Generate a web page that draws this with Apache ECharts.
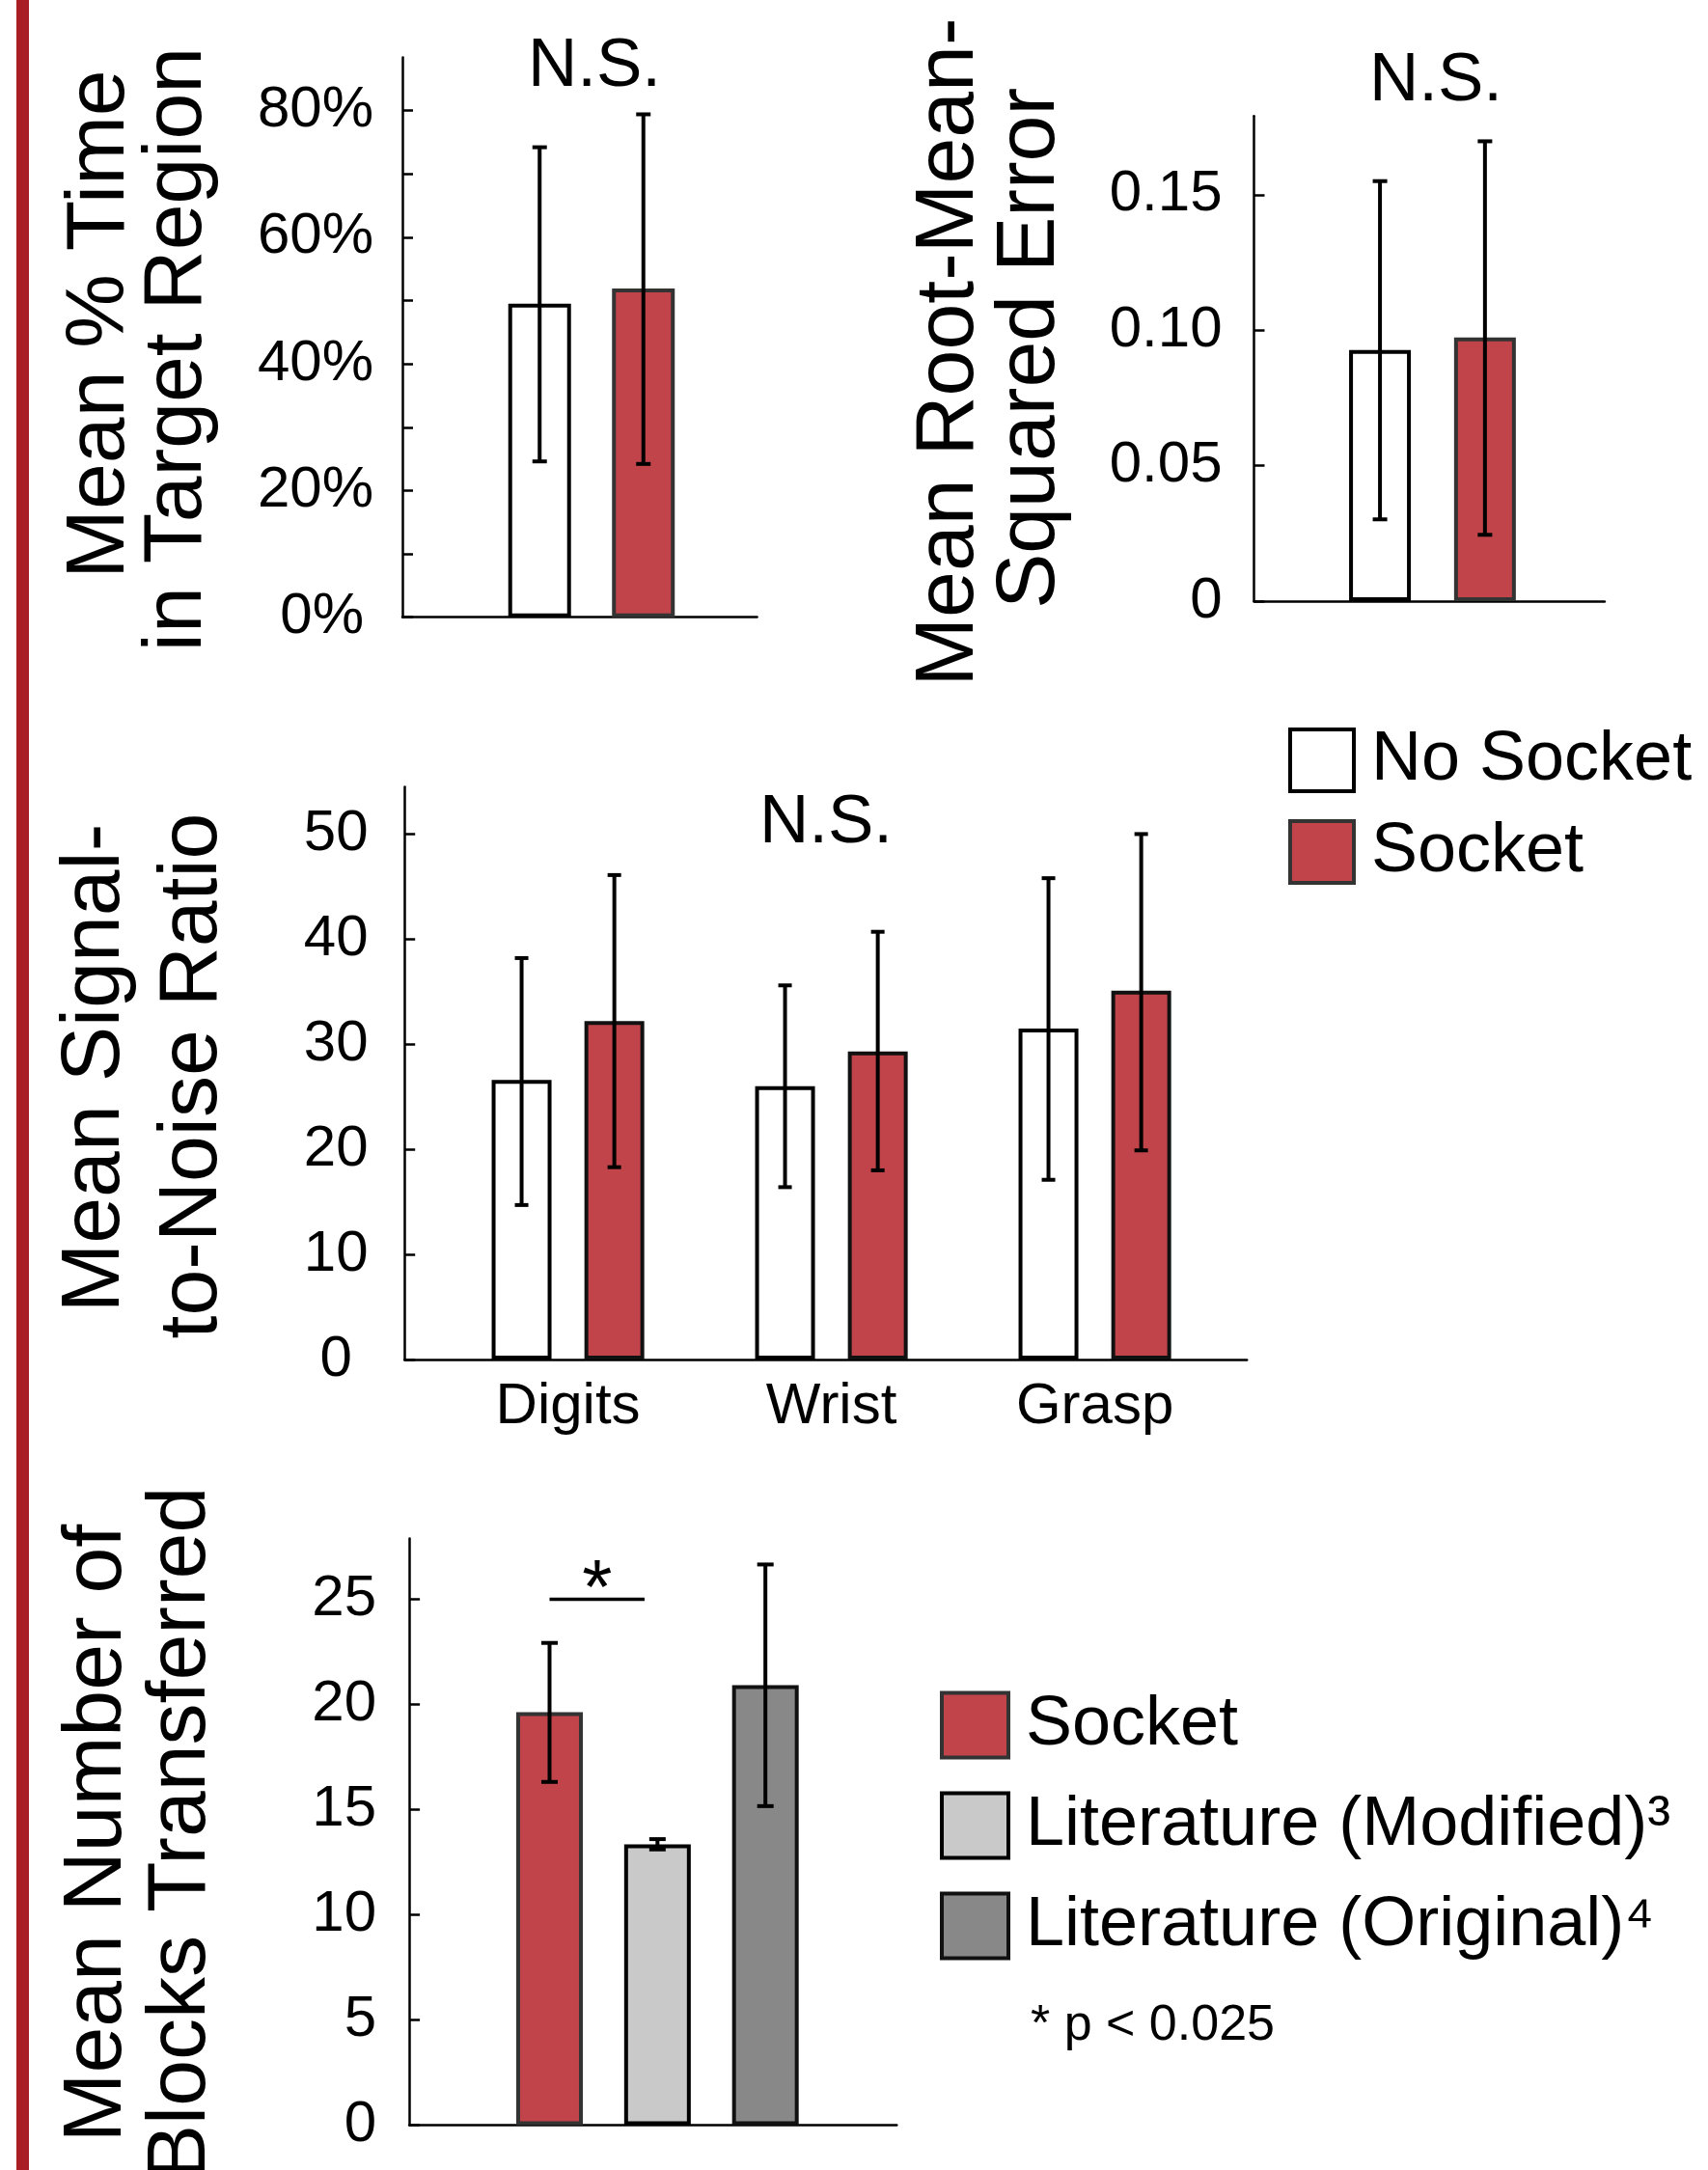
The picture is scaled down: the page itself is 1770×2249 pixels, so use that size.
<!DOCTYPE html>
<html><head><meta charset="utf-8">
<script src="https://cdn.jsdelivr.net/npm/echarts@6/dist/echarts.min.js"></script>
<style>html,body{margin:0;padding:0;background:#fff}#c{width:1770px;height:2249px}</style>
</head><body><div id="c"></div>
<script>
// ---------- DATA ----------
// Panel A: mean % time in target region (index 0 = No Socket, 1 = Socket)
const timeMean = [49.5, 51.9];
const timeLow = [24.6, 24.2];
const timeHigh = [74.2, 79.4];
const timeTicks = [0, 10, 20, 30, 40, 50, 60, 70, 80];
const timeTickLabels = [0, 20, 40, 60, 80];

// Panel B: mean RMSE
const rmseMean = [0.0927, 0.0973];
const rmseLow = [0.0302, 0.0245];
const rmseHigh = [0.155, 0.1697];
const rmseTicks = [0, 0.05, 0.10, 0.15];

// Panel C: mean signal-to-noise ratio
const snrCategories = ['Digits', 'Wrist', 'Grasp'];
const snrNoSocket = [26.6, 26.0, 31.5];
const snrNoSocketLow = [14.7, 16.4, 17.1];
const snrNoSocketHigh = [38.2, 35.6, 45.8];
const snrSocket = [32.2, 29.3, 35.1];
const snrSocketLow = [18.3, 18.0, 19.9];
const snrSocketHigh = [46.1, 40.7, 50.0];
const snrTicks = [0, 10, 20, 30, 40, 50];

// Panel D: mean number of blocks transferred
const blockNames = ['Socket', 'Literature (Modified)³', 'Literature (Original)⁴'];
const blockMean = [19.64, 13.35, 20.92];
const blockLow = [16.32, 13.11, 15.17];
const blockHigh = [22.93, 13.6, 26.66];
const blockTicks = [0, 5, 10, 15, 20, 25];
const sigBracket = [[0, 0.88, 25]]; // from index, to index, value
const sigNote = '* p < 0.025';

const seriesNames = ['No Socket', 'Socket'];

// ---------- STYLE ----------
const FONT = "'Liberation Sans', Arial, Helvetica, sans-serif";
const RED = '#C0444A', RED_BORDER = '#333333';
const LIGHT = '#C8C9C8', DARK = '#878887';
const axisLineStyle = {color: '#000', width: 2.5};

function errorSeries(idx, data, offset, capW) {
  return {
    type: 'custom', xAxisIndex: idx, yAxisIndex: idx, z: 10, silent: true,
    data: data,
    renderItem: function (params, api) {
      const p1 = api.coord([api.value(0), api.value(1)]);
      const p2 = api.coord([api.value(0), api.value(2)]);
      const x = p1[0] + offset;
      const st = {stroke: '#000', lineWidth: 4, fill: null};
      return {type: 'group', children: [
        {type: 'line', shape: {x1: x, y1: p2[1], x2: x, y2: p1[1]}, style: st},
        {type: 'line', shape: {x1: x - capW / 2, y1: p2[1], x2: x + capW / 2, y2: p2[1]}, style: st},
        {type: 'line', shape: {x1: x - capW / 2, y1: p1[1], x2: x + capW / 2, y2: p1[1]}, style: st}
      ]};
    }
  };
}

function yAxisDef(idx, max, ticks, labels, fmt, margin, align, rich) {
  return {
    gridIndex: idx, type: 'value', min: 0, max: max,
    axisLine: {show: true, onZero: false, lineStyle: axisLineStyle},
    axisTick: {show: true, inside: true, length: 11, customValues: ticks, lineStyle: {color: '#000', width: 2.5}},
    axisLabel: {show: true, customValues: labels, formatter: fmt, fontSize: 60, fontFamily: FONT,
      color: '#000', margin: margin, align: align || 'right', rich: rich || {}},
    splitLine: {show: false}
  };
}
function xAxisDef(idx, min, max, labelOpt) {
  return {
    gridIndex: idx, type: 'value', min: min, max: max,
    axisLine: {show: true, onZero: false, lineStyle: axisLineStyle},
    axisTick: {show: false},
    axisLabel: labelOpt || {show: false},
    splitLine: {show: false}
  };
}

// bar geometry per panel (outer widths; ECharts keeps the border inside the bar)
const bwA = 65, gapA = 0.654, bwB = 64, gapB = 0.70, bwC = 62, gapC = 0.55, bwD = 69;

const chart = echarts.init(document.getElementById('c'), null, {renderer: 'canvas'});

const series = [
  // Panel A
  {type: 'bar', name: seriesNames[0], xAxisIndex: 0, yAxisIndex: 0, barWidth: bwA, barGap: (gapA * 100) + '%',
    itemStyle: {color: '#fff', borderColor: '#000', borderWidth: 4}, data: [[0, timeMean[0]]]},
  {type: 'bar', name: seriesNames[1], xAxisIndex: 0, yAxisIndex: 0, barWidth: bwA, barGap: (gapA * 100) + '%',
    itemStyle: {color: RED, borderColor: RED_BORDER, borderWidth: 4}, data: [[0, timeMean[1]]]},
  errorSeries(0, [[0, timeLow[0], timeHigh[0]]], -bwA * (1 + gapA) / 2, 15),
  errorSeries(0, [[0, timeLow[1], timeHigh[1]]], bwA * (1 + gapA) / 2, 15),
  // Panel B
  {type: 'bar', name: seriesNames[0], xAxisIndex: 1, yAxisIndex: 1, barWidth: bwB, barGap: (gapB * 100) + '%',
    itemStyle: {color: '#fff', borderColor: '#000', borderWidth: 4}, data: [[0, rmseMean[0]]]},
  {type: 'bar', name: seriesNames[1], xAxisIndex: 1, yAxisIndex: 1, barWidth: bwB, barGap: (gapB * 100) + '%',
    itemStyle: {color: RED, borderColor: RED_BORDER, borderWidth: 4}, data: [[0, rmseMean[1]]]},
  errorSeries(1, [[0, rmseLow[0], rmseHigh[0]]], -bwB * (1 + gapB) / 2, 15),
  errorSeries(1, [[0, rmseLow[1], rmseHigh[1]]], bwB * (1 + gapB) / 2, 15),
  // Panel C
  {type: 'bar', name: seriesNames[0], xAxisIndex: 2, yAxisIndex: 2, barWidth: bwC, barGap: (gapC * 100) + '%',
    itemStyle: {color: '#fff', borderColor: '#000', borderWidth: 4}, data: snrNoSocket.map((v, i) => [i, v])},
  {type: 'bar', name: seriesNames[1], xAxisIndex: 2, yAxisIndex: 2, barWidth: bwC, barGap: (gapC * 100) + '%',
    itemStyle: {color: RED, borderColor: '#111', borderWidth: 4}, data: snrSocket.map((v, i) => [i, v])},
  errorSeries(2, snrNoSocket.map((v, i) => [i, snrNoSocketLow[i], snrNoSocketHigh[i]]), -bwC * (1 + gapC) / 2, 14),
  errorSeries(2, snrSocket.map((v, i) => [i, snrSocketLow[i], snrSocketHigh[i]]), bwC * (1 + gapC) / 2, 14),
  // Panel D
  {type: 'bar', name: blockNames[0], xAxisIndex: 3, yAxisIndex: 3, barWidth: bwD, barGap: '-100%',
    itemStyle: {color: RED, borderColor: RED_BORDER, borderWidth: 4}, data: [[0, blockMean[0]]]},
  {type: 'bar', name: blockNames[1], xAxisIndex: 3, yAxisIndex: 3, barWidth: bwD, barGap: '-100%',
    itemStyle: {color: LIGHT, borderColor: '#000', borderWidth: 4}, data: [[1, blockMean[1]]]},
  {type: 'bar', name: blockNames[2], xAxisIndex: 3, yAxisIndex: 3, barWidth: bwD, barGap: '-100%',
    itemStyle: {color: DARK, borderColor: '#111', borderWidth: 4}, data: [[2, blockMean[2]]]},
  errorSeries(3, blockMean.map((v, i) => [i, blockLow[i], blockHigh[i]]), 0, 17),
  {
    type: 'custom', xAxisIndex: 3, yAxisIndex: 3, z: 10, silent: true, data: sigBracket,
    renderItem: function (params, api) {
      const a = api.coord([api.value(0), api.value(2)]);
      const b = api.coord([api.value(1), api.value(2)]);
      return {type: 'group', children: [
        {type: 'line', shape: {x1: a[0], y1: a[1], x2: b[0], y2: b[1]}, style: {stroke: '#000', lineWidth: 3.5}},
        {type: 'text', x: (a[0] + b[0]) / 2, y: a[1] - 8,
          style: {text: '*', font: '80px ' + FONT, fill: '#000', textAlign: 'center', textVerticalAlign: 'middle',
            align: 'center', verticalAlign: 'middle'}}
      ]};
    }
  }
];

function txt(t, x, y, size, rot, align) {
  return {type: 'text', x: x, y: y, rotation: rot || 0, silent: true,
    style: {text: t, font: size + 'px ' + FONT, fill: '#000',
      textAlign: align || 'center', textVerticalAlign: 'middle', align: align || 'center', verticalAlign: 'middle'}};
}
const R = Math.PI / 2;

const option = {
  animation: false,
  backgroundColor: '#fff',
  textStyle: {fontFamily: FONT},
  grid: [
    {left: 417, top: 59.4, width: 367.5, height: 580.3},
    {left: 1299.5, top: 120.3, width: 363.4, height: 502.8},
    {left: 419.2, top: 815.4, width: 873, height: 593.6},
    {left: 424.1, top: 1594.4, width: 505.2, height: 608.1}
  ],
  xAxis: [
    xAxisDef(0, -0.5333, 0.4667),
    xAxisDef(1, -0.509, 0.491),
    xAxisDef(2, -0.6205, 2.5773, {show: true, customValues: snrCategories.map((c, i) => i),
      formatter: v => snrCategories[v] || '', fontSize: 60, fontFamily: FONT, color: '#000', margin: 19}),
    xAxisDef(3, -1.300, 3.217)
  ],
  yAxis: [
    yAxisDef(0, 88.4, timeTicks, timeTickLabels, v => v === 0 ? '{z|0%}' : v + '%', 30, 'right',
      {z: {fontSize: 60, fontFamily: FONT, color: '#000', padding: [0, 10, 0, 0]}}),
    yAxisDef(1, 0.179, rmseTicks, rmseTicks, v => v === 0 ? '0' : v.toFixed(2), 33),
    yAxisDef(2, 54.5, snrTicks, snrTicks, v => String(v), 71, 'center'),
    yAxisDef(3, 27.9, blockTicks, blockTicks, v => String(v), 34)
  ],
  legend: [
    {orient: 'vertical', left: 1335, top: 752, padding: 0, icon: 'rect', itemWidth: 66, itemHeight: 64, itemGap: 23,
      data: seriesNames, selectedMode: false,
      itemStyle: {borderWidth: 4},
      textStyle: {fontSize: 72, fontFamily: FONT, color: '#000', padding: [0, 0, 0, 13], lineHeight: 64}},
    {orient: 'vertical', left: 974, top: 1752, padding: 0, icon: 'rect', itemWidth: 69, itemHeight: 67, itemGap: 32,
      data: blockNames, selectedMode: false,
      itemStyle: {borderWidth: 4},
      textStyle: {fontSize: 72, fontFamily: FONT, color: '#000', padding: [0, 0, 0, 13], lineHeight: 67}}
  ],
  graphic: [
    {type: 'rect', left: 17, top: 0, silent: true, shape: {width: 13, height: 2249}, style: {fill: '#A81E24'}},
    txt('N.S.', 616, 69, 71),
    txt('N.S.', 1488, 84, 71),
    txt('N.S.', 856, 853, 71),
    txt('Mean % Time', 104, 336, 86, R),
    txt('in Target Region', 184, 362, 86, R),
    txt('Mean Root-Mean-', 984, 365, 86, R),
    txt('Squared Error', 1068, 361, 86, R),
    txt('Mean Signal-', 99, 1107, 86, R),
    txt('to-Noise Ratio', 200, 1115, 86, R),
    txt('Mean Number of', 101, 1900, 86, R),
    txt('Blocks Transferred', 188, 1900, 86, R),
    txt(sigNote, 1068, 2100, 52, 0, 'left')
  ],
  series: series
};
chart.setOption(option);
</script>
</body></html>
